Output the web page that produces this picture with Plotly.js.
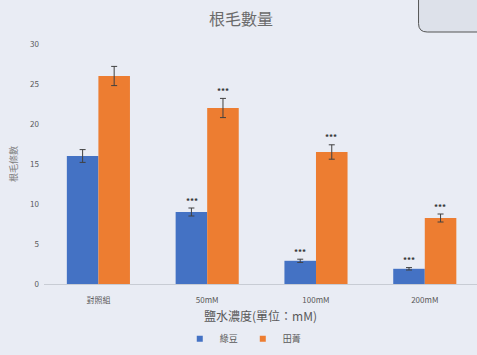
<!DOCTYPE html>
<html><head><meta charset="utf-8">
<script src="https://cdn.plot.ly/plotly-3.0.1.min.js"></script>
<style>html,body{margin:0;padding:0;background:#e9ecf4;}#chart{width:477px;height:355px;}</style>
</head><body><div id="chart"></div>
<script>
const categories = ['對照組', '50mM', '100mM', '200mM'];
const seriesNames = ['綠豆', '田菁'];
const mungBean = [16, 9, 2.9, 1.9];
const mungBeanErr = [0.8, 0.5, 0.2, 0.15];
const sesbania = [26, 22, 16.5, 8.25];
const sesbaniaErr = [1.2, 1.2, 0.9, 0.5];
const mungBeanSig = ['', '***', '***', '***'];
const sesbaniaSig = ['', '***', '***', '***'];

const colors = ['#4472c4', '#ed7d31'];
const errStyle = {type: 'data', visible: true, color: '#404040', thickness: 1, width: 3};

const traces = [
  {type: 'bar', name: seriesNames[0], x: categories, y: mungBean, marker: {color: colors[0]},
   showlegend: false, error_y: Object.assign({array: mungBeanErr}, errStyle)},
  {type: 'bar', name: seriesNames[1], x: categories, y: sesbania, marker: {color: colors[1]},
   showlegend: false, error_y: Object.assign({array: sesbaniaErr}, errStyle)},
  // legend entries with small square swatches
  {type: 'scatter', mode: 'markers', name: seriesNames[0], x: [null], y: [null],
   marker: {symbol: 'square', size: 6, color: colors[0]}},
  {type: 'scatter', mode: 'markers', name: seriesNames[1], x: [null], y: [null],
   marker: {symbol: 'square', size: 6, color: colors[1]}}
];

const annotations = [];
categories.forEach((c, i) => {
  if (mungBeanSig[i]) annotations.push({x: i, y: mungBean[i] + mungBeanErr[i], xshift: -15.5, yshift: 8,
    text: '<b>' + mungBeanSig[i] + '</b>', showarrow: false, font: {size: 8, color: '#333'}});
  if (sesbaniaSig[i]) annotations.push({x: i, y: sesbania[i] + sesbaniaErr[i], xshift: 15.5, yshift: 8,
    text: '<b>' + sesbaniaSig[i] + '</b>', showarrow: false, font: {size: 8, color: '#333'}});
});

const layout = {
  width: 477, height: 355,
  paper_bgcolor: '#e9ecf4', plot_bgcolor: 'rgba(0,0,0,0)',
  margin: {l: 44, r: 0, t: 44, b: 71, autoexpand: false},
  font: {family: '"Noto Sans CJK TC", "Noto Sans", sans-serif', color: '#595959'},
  title: {text: '根毛數量', x: 0.505, xanchor: 'center', y: 0.945, yanchor: 'middle',
          font: {size: 16, color: '#6b6b6b'}},
  barmode: 'group', bargap: 0.42, bargroupgap: 0,
  xaxis: {range: [-0.5, 3.48], showline: true, linecolor: '#c8ccd4', linewidth: 1, automargin: false,
          ticks: '', ticklabelstandoff: 8, tickfont: {size: 8, color: '#595959'}, showgrid: false, zeroline: false,
          title: {text: '鹽水濃度(單位：mM)', font: {size: 12, color: '#595959'}, standoff: 16}},
  yaxis: {range: [0, 30], dtick: 5, showgrid: false, zeroline: false, showline: false, automargin: false,
          tickfont: {size: 8, color: '#595959'}, ticks: '', ticklabelstandoff: 4,
          title: {text: '根毛條數', font: {size: 9, color: '#7f7f7f'}, standoff: 10}},
  legend: {orientation: 'h', x: 0.51, xanchor: 'center', xref: 'container',
           y: 0.005, yanchor: 'bottom', yref: 'container',
           font: {size: 9, color: '#595959'}, itemwidth: 30, bgcolor: 'rgba(0,0,0,0)', tracegroupgap: 0},
  annotations: annotations,
  shapes: [
    {type: 'path', xref: 'paper', yref: 'paper',
     path: 'M 0.865,1.25 L 0.865,1.085 Q 0.865,1.05 0.885,1.05 L 1.05,1.05 L 1.05,1.25 Z',
     line: {color: '#555', width: 1}, fillcolor: '#dde1ea', layer: 'below'}
  ]
};

Plotly.newPlot('chart', traces, layout, {displayModeBar: false, staticPlot: true});
</script></body></html>
